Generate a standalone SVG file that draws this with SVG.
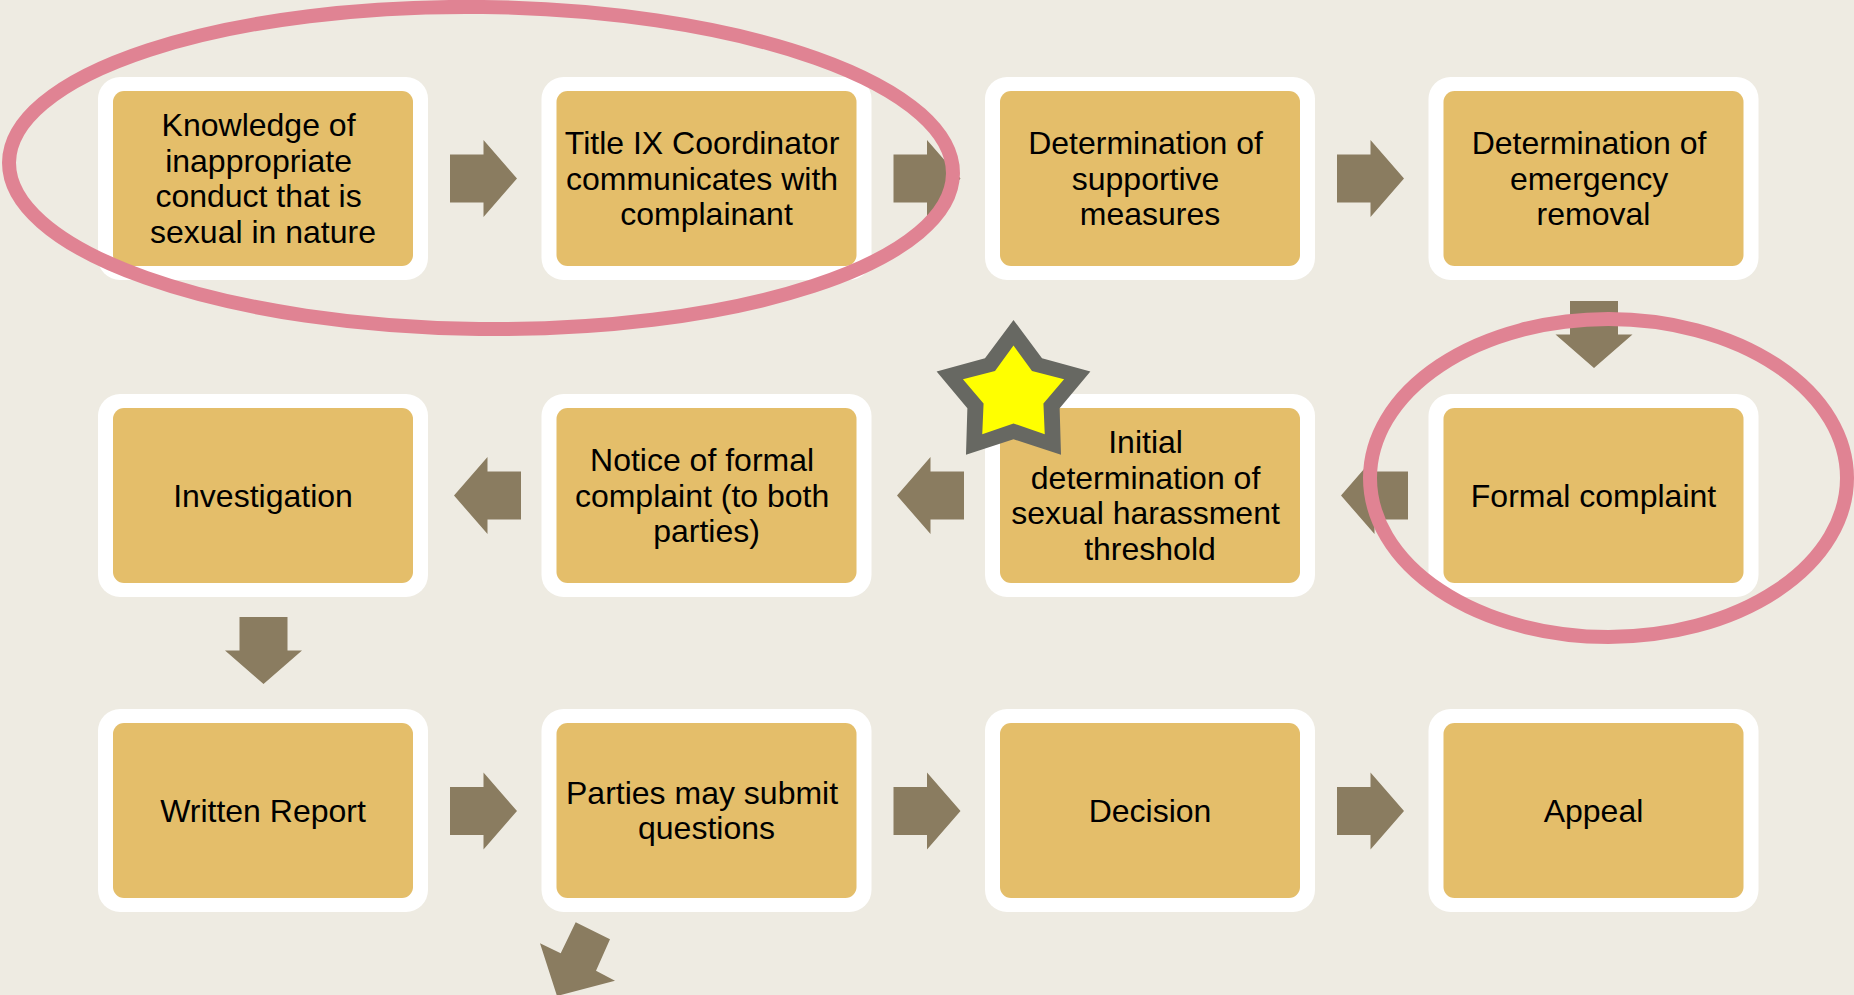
<svg xmlns="http://www.w3.org/2000/svg" width="1854" height="995" viewBox="0 0 1854 995">
  <style>
    .frame { fill: #FFFFFF; }
    .card { fill: #E4BE6A; }
    .label { font-family: "Liberation Sans", Arial, sans-serif; font-size: 32px; fill: #000000; text-anchor: middle; }
    .arrow { fill: #8A7C60; }
    .ring { fill: none; stroke: #E08393; stroke-width: 14; }
  </style>
  <defs>
    <!-- block arrow pointing right, centred on the origin -->
    <path id="blockArrow" d="M-33.5,-24 H0 V-38.5 L33.5,0 L0,38.5 V24 H-33.5 Z"/>
  </defs>

  <rect width="1854" height="995" fill="#EEEBE2"/>

  <!-- row 1 -->
  <g id="node-knowledge">
    <rect class="frame" x="98" y="77" width="330" height="203" rx="22"/>
    <rect class="card" x="113" y="91" width="300" height="175" rx="11"/>
    <text class="label">
      <tspan x="263" y="136.25">Knowledge of</tspan>
      <tspan x="263" y="171.75">inappropriate</tspan>
      <tspan x="263" y="207.25">conduct that is</tspan>
      <tspan x="263" y="242.75">sexual in nature</tspan>
    </text>
  </g>
  <g id="node-coordinator">
    <rect class="frame" x="541.5" y="77" width="330" height="203" rx="22"/>
    <rect class="card" x="556.5" y="91" width="300" height="175" rx="11"/>
    <text class="label">
      <tspan x="706.5" y="154">Title IX Coordinator</tspan>
      <tspan x="706.5" y="189.5">communicates with</tspan>
      <tspan x="706.5" y="225">complainant</tspan>
    </text>
  </g>
  <g id="node-supportive">
    <rect class="frame" x="985" y="77" width="330" height="203" rx="22"/>
    <rect class="card" x="1000" y="91" width="300" height="175" rx="11"/>
    <text class="label">
      <tspan x="1150" y="154">Determination of</tspan>
      <tspan x="1150" y="189.5">supportive</tspan>
      <tspan x="1150" y="225">measures</tspan>
    </text>
  </g>
  <g id="node-emergency">
    <rect class="frame" x="1428.5" y="77" width="330" height="203" rx="22"/>
    <rect class="card" x="1443.5" y="91" width="300" height="175" rx="11"/>
    <text class="label">
      <tspan x="1593.5" y="154">Determination of</tspan>
      <tspan x="1593.5" y="189.5">emergency</tspan>
      <tspan x="1593.5" y="225">removal</tspan>
    </text>
  </g>

  <!-- row 2 -->
  <g id="node-formal">
    <rect class="frame" x="1428.5" y="394" width="330" height="203" rx="22"/>
    <rect class="card" x="1443.5" y="408" width="300" height="175" rx="11"/>
    <text class="label"><tspan x="1593.5" y="506.5">Formal complaint</tspan></text>
  </g>
  <g id="node-initial">
    <rect class="frame" x="985" y="394" width="330" height="203" rx="22"/>
    <rect class="card" x="1000" y="408" width="300" height="175" rx="11"/>
    <text class="label">
      <tspan x="1150" y="453.25">Initial</tspan>
      <tspan x="1150" y="488.75">determination of</tspan>
      <tspan x="1150" y="524.25">sexual harassment</tspan>
      <tspan x="1150" y="559.75">threshold</tspan>
    </text>
  </g>
  <g id="node-notice">
    <rect class="frame" x="541.5" y="394" width="330" height="203" rx="22"/>
    <rect class="card" x="556.5" y="408" width="300" height="175" rx="11"/>
    <text class="label">
      <tspan x="706.5" y="471">Notice of formal</tspan>
      <tspan x="706.5" y="506.5">complaint (to both</tspan>
      <tspan x="706.5" y="542">parties)</tspan>
    </text>
  </g>
  <g id="node-investigation">
    <rect class="frame" x="98" y="394" width="330" height="203" rx="22"/>
    <rect class="card" x="113" y="408" width="300" height="175" rx="11"/>
    <text class="label"><tspan x="263" y="506.5">Investigation</tspan></text>
  </g>

  <!-- row 3 -->
  <g id="node-report">
    <rect class="frame" x="98" y="709" width="330" height="203" rx="22"/>
    <rect class="card" x="113" y="723" width="300" height="175" rx="11"/>
    <text class="label"><tspan x="263" y="821.5">Written Report</tspan></text>
  </g>
  <g id="node-questions">
    <rect class="frame" x="541.5" y="709" width="330" height="203" rx="22"/>
    <rect class="card" x="556.5" y="723" width="300" height="175" rx="11"/>
    <text class="label">
      <tspan x="706.5" y="803.75">Parties may submit</tspan>
      <tspan x="706.5" y="839.25">questions</tspan>
    </text>
  </g>
  <g id="node-decision">
    <rect class="frame" x="985" y="709" width="330" height="203" rx="22"/>
    <rect class="card" x="1000" y="723" width="300" height="175" rx="11"/>
    <text class="label"><tspan x="1150" y="821.5">Decision</tspan></text>
  </g>
  <g id="node-appeal">
    <rect class="frame" x="1428.5" y="709" width="330" height="203" rx="22"/>
    <rect class="card" x="1443.5" y="723" width="300" height="175" rx="11"/>
    <text class="label"><tspan x="1593.5" y="821.5">Appeal</tspan></text>
  </g>

  <!-- connectors -->
  <g id="connectors" class="arrow">
    <use href="#blockArrow" transform="translate(483.5,178.5)"/>
    <use href="#blockArrow" transform="translate(927,178.5)"/>
    <use href="#blockArrow" transform="translate(1370.5,178.5)"/>
    <use href="#blockArrow" transform="translate(1594,334.5) rotate(90)"/>
    <use href="#blockArrow" transform="translate(1374.5,495.5) rotate(180)"/>
    <use href="#blockArrow" transform="translate(930.5,495.5) rotate(180)"/>
    <use href="#blockArrow" transform="translate(487.5,495.5) rotate(180)"/>
    <use href="#blockArrow" transform="translate(263.5,650.5) rotate(90)"/>
    <use href="#blockArrow" transform="translate(483.5,811)"/>
    <use href="#blockArrow" transform="translate(927,811)"/>
    <use href="#blockArrow" transform="translate(1370.5,811)"/>
    <polygon points="575.7,922.3 610,939.3 596,970.7 615,980.7 557,996 540,943.3 560.7,953.3"/>
  </g>

  <!-- star badge -->
  <g id="star" transform="translate(1013.5,394.5)">
    <polygon fill="#676862" points="0,-74.5 28.51,-36.16 76.88,-23.02 46.13,13.81 47.51,60.27 0,44.7 -47.51,60.27 -46.13,13.81 -76.88,-23.02 -28.51,-36.16"/>
    <polygon fill="#FFFF00" points="0,-49 18.5,-23.46 50.57,-15.14 29.93,8.96 31.25,39.64 0,29 -31.25,39.64 -29.93,8.96 -50.57,-15.14 -18.5,-23.46"/>
  </g>

  <!-- highlight rings -->
  <g id="highlights">
    <ellipse class="ring" cx="481" cy="168" rx="472" ry="161" transform="rotate(0.7 481 168)"/>
    <ellipse class="ring" cx="1608.5" cy="478" rx="238.5" ry="159"/>
  </g>
</svg>
